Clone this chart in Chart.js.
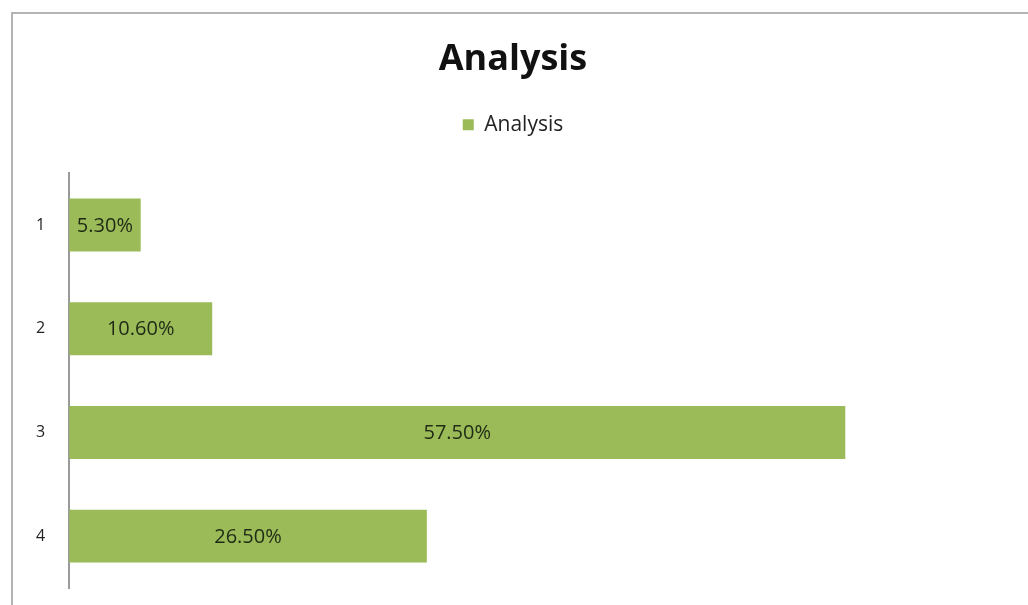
<!DOCTYPE html>
<html>
<head>
<meta charset="utf-8">
<title>Analysis</title>
<script src="https://cdn.jsdelivr.net/npm/chart.js@4"></script>
<style>
    html, body {
        margin: 0;
        padding: 0;
        background: #ffffff;
        overflow: hidden;
    }
    .chart-frame {
        position: absolute;
        left: 11px;
        top: 12px;
        width: 1100px;
        height: 700px;
        border-left: 2px solid #b4b4b4;
        border-top: 2px solid #b4b4b4;
    }
    .chart-container {
        position: absolute;
        left: 0;
        top: 0;
        width: 1028px;
        height: 605px;
    }
</style>
</head>
<body>
<div class="chart-frame"></div>
<div class="chart-container">
    <canvas id="AnalysisChart"></canvas>
</div>
<script>
// Chart data
const CATEGORIES = ['1', '2', '3', '4'];
const ANALYSIS_VALUES = [5.3, 10.6, 57.5, 26.5];
const SERIES_LABEL = 'Analysis';
const X_MIN = 0;
const X_MAX = 70;

const BAR_GREEN = '#9BBB59';
const TEXT_DARK = '#1f2a14';
const FONT_FAMILY = '"Open Sans", "DejaVu Sans", sans-serif';

// Draw the value label in the middle of each bar
const barValueLabels = {
    id: 'barValueLabels',
    afterDatasetsDraw(chart) {
        const ctx = chart.ctx;
        const meta = chart.getDatasetMeta(0);
        const values = chart.data.datasets[0].data;

        ctx.save();
        ctx.font = '20px ' + FONT_FAMILY;
        ctx.fillStyle = TEXT_DARK;
        ctx.textAlign = 'center';
        ctx.textBaseline = 'middle';
        meta.data.forEach((bar, i) => {
            const centerX = (bar.x + bar.base) / 2;
            ctx.fillText(values[i].toFixed(2) + '%', centerX, bar.y + 1);
        });
        ctx.restore();
    }
};

// Leave some extra room below the legend
const legendGap = {
    id: 'legendGap',
    beforeInit(chart) {
        const originalFit = chart.legend.fit;
        chart.legend.fit = function fit() {
            originalFit.bind(chart.legend)();
            this.height += 28;
        };
    }
};

function createAnalysisChart(canvasId) {
    const canvas = document.getElementById(canvasId);

    if (!canvas) {
        console.error(`Canvas element with id "${canvasId}" not found`);
        return null;
    }

    const data = {
        labels: CATEGORIES,
        datasets: [{
            label: SERIES_LABEL,
            data: ANALYSIS_VALUES,
            backgroundColor: BAR_GREEN,
            borderWidth: 0,
            barPercentage: 0.51,
            categoryPercentage: 1.0,
        }]
    };

    const config = {
        type: 'bar',
        data: data,
        options: {
            indexAxis: 'y',
            responsive: true,
            maintainAspectRatio: false,
            animation: false,
            layout: {
                padding: { left: 12, right: 14, top: 0, bottom: 17 }
            },
            plugins: {
                title: {
                    display: true,
                    text: 'Analysis',
                    color: '#111111',
                    font: { family: FONT_FAMILY, size: 36, weight: 'bold' },
                    padding: { top: 38, bottom: 24 }
                },
                legend: {
                    display: true,
                    position: 'top',
                    labels: {
                        boxWidth: 11,
                        boxHeight: 11,
                        color: '#222222',
                        font: { family: FONT_FAMILY, size: 21 },
                        padding: 9
                    }
                },
                tooltip: { enabled: false }
            },
            scales: {
                x: {
                    display: false,
                    min: X_MIN,
                    max: X_MAX
                },
                y: {
                    // tick padding would otherwise also be added above and below the axis
                    afterFit(scale) {
                        scale.paddingTop = 0;
                        scale.paddingBottom = 0;
                    },
                    grid: {
                        display: false,
                        drawTicks: false
                    },
                    border: {
                        display: true,
                        color: '#9a9a9a',
                        width: 2
                    },
                    ticks: {
                        color: '#222222',
                        padding: 24,
                        font: { family: FONT_FAMILY, size: 16 }
                    }
                }
            }
        },
        plugins: [barValueLabels, legendGap]
    };

    return new Chart(canvas, config);
}

document.addEventListener('DOMContentLoaded', () => {
    createAnalysisChart('AnalysisChart');
});
</script>
</body>
</html>
